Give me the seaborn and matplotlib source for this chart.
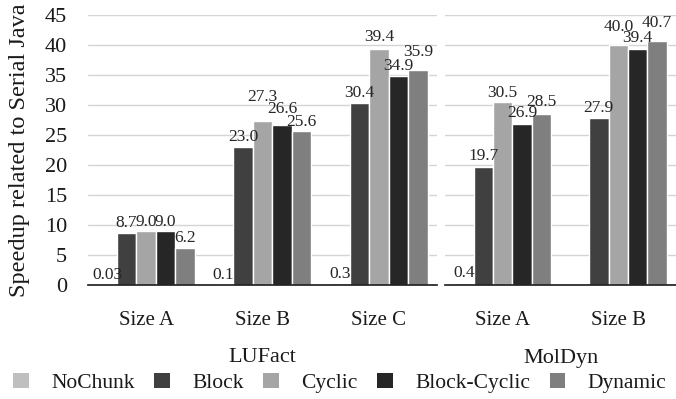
import matplotlib
matplotlib.use("Agg")
import matplotlib.pyplot as plt
from matplotlib.patches import Patch
import seaborn as sns
import pandas as pd

# ---- data ----
schemes = ["NoChunk", "Block", "Cyclic", "Block-Cyclic", "Dynamic"]
colors = ["#bfbfbf", "#404040", "#a5a5a5", "#262626", "#7f7f7f"]

lufact_sizes = ["Size A", "Size B", "Size C"]
lufact_values = {
    "NoChunk": [0.03, 0.1, 0.3],
    "Block": [8.7, 23.0, 30.4],
    "Cyclic": [9.0, 27.3, 39.4],
    "Block-Cyclic": [9.0, 26.6, 34.9],
    "Dynamic": [6.2, 25.6, 35.9],
}
lufact_labels = {
    "NoChunk": ["0.03", "0.1", "0.3"],
    "Block": ["8.7", "23.0", "30.4"],
    "Cyclic": ["9.0", "27.3", "39.4"],
    "Block-Cyclic": ["9.0", "26.6", "34.9"],
    "Dynamic": ["6.2", "25.6", "35.9"],
}

moldyn_sizes = ["Size A", "Size B"]
moldyn_values = {
    "NoChunk": [0.4, 0.0],
    "Block": [19.7, 27.9],
    "Cyclic": [30.5, 40.0],
    "Block-Cyclic": [26.9, 39.4],
    "Dynamic": [28.5, 40.7],
}
moldyn_labels = {
    "NoChunk": ["0.4", ""],
    "Block": ["19.7", "27.9"],
    "Cyclic": ["30.5", "40.0"],
    "Block-Cyclic": ["26.9", "39.4"],
    "Dynamic": ["28.5", "40.7"],
}

group_names = ["LUFact", "MolDyn"]
y_ticks = [0, 5, 10, 15, 20, 25, 30, 35, 40, 45]
y_label = "Speedup related to Serial Java"

# ---- label placement tweaks (extra lift in pixels, as in the reference) ----
lufact_lift = {
    "NoChunk": [0, 0, 0],
    "Block": [0, 1, 0],
    "Cyclic": [0, 15, 2],
    "Block-Cyclic": [0, 7, 0],
    "Dynamic": [0, 0, 8],
}
moldyn_lift = {
    "NoChunk": [0, 0],
    "Block": [1, 0],
    "Cyclic": [0, 9],
    "Block-Cyclic": [1, 1],
    "Dynamic": [3, 8],
}

# ---- style ----
sns.set_theme(style="white")
plt.rcParams["font.family"] = ["Liberation Serif", "DejaVu Serif"]

W, H = 676, 399
PX = 72 / 100  # points per pixel
fig = plt.figure(figsize=(W / 100, H / 100), dpi=100)
ax1 = fig.add_axes([88 / W, 1 - 285 / H, (437 - 88) / W, (285 - 15) / H])
ax2 = fig.add_axes([445 / W, 1 - 285 / H, (676 - 445) / W, (285 - 15) / H])


def long_df(sizes, values):
    rows = []
    for s in schemes:
        for size, v in zip(sizes, values[s]):
            rows.append({"size": size, "scheme": s, "speedup": v})
    return pd.DataFrame(rows)


for ax, sizes, values, labels, lift, gname in [
    (ax1, lufact_sizes, lufact_values, lufact_labels, lufact_lift, group_names[0]),
    (ax2, moldyn_sizes, moldyn_values, moldyn_labels, moldyn_lift, group_names[1]),
]:
    df = long_df(sizes, values)
    sns.barplot(
        data=df, x="size", y="speedup", hue="scheme",
        order=sizes, hue_order=schemes, palette=colors,
        width=0.84, edgecolor="white", linewidth=1.0,
        ax=ax, legend=False, errorbar=None, saturation=1,
    )
    for cont, s in zip(ax.containers, schemes):
        for bar, txt, dy in zip(cont.patches, labels[s], lift[s]):
            if not txt:
                continue
            ax.annotate(txt, (bar.get_x() + bar.get_width() / 2, bar.get_height()),
                        xytext=(0, 1.0 + dy * PX), textcoords="offset points",
                        ha="center", va="bottom", fontsize=12.5, color="#262626")
    ax.set_ylim(0, 45)
    ax.set_xlim(-0.5, len(sizes) - 0.5)
    ax.set_yticks(y_ticks)
    ax.yaxis.grid(True, color="#d4d4d4", linewidth=1)
    ax.set_axisbelow(True)
    for sp in ["top", "right", "left"]:
        ax.spines[sp].set_visible(False)
    ax.spines["bottom"].set_color("#1a1a1a")
    ax.spines["bottom"].set_linewidth(1.2)
    ax.set_xlabel("")
    ax.set_ylabel("")
    ax.tick_params(axis="x", length=0, pad=19, labelsize=15, labelcolor="#1a1a1a")
    ax.tick_params(axis="y", length=0, pad=15, labelsize=16, labelcolor="#1a1a1a")
    pos = ax.get_position()
    fig.text((pos.x0 + pos.x1) / 2, 1 - 358 / H, gname, ha="center",
             va="center", fontsize=16, color="#1a1a1a")

ax2.tick_params(axis="y", labelleft=False)
ax1.set_ylabel(y_label, fontsize=17.5, color="#1a1a1a", labelpad=11)

handles = [Patch(facecolor=c, edgecolor="none") for c in colors]
fig.legend(handles, schemes, loc="center", bbox_to_anchor=(340 / W, 1 - 383 / H),
           ncol=5, frameon=False, fontsize=15.5, handlelength=0.72,
           handleheight=0.72, handletextpad=1.05, columnspacing=0.9,
           labelcolor="#1a1a1a", borderpad=0.2)

fig.savefig("out.png", dpi=100)
